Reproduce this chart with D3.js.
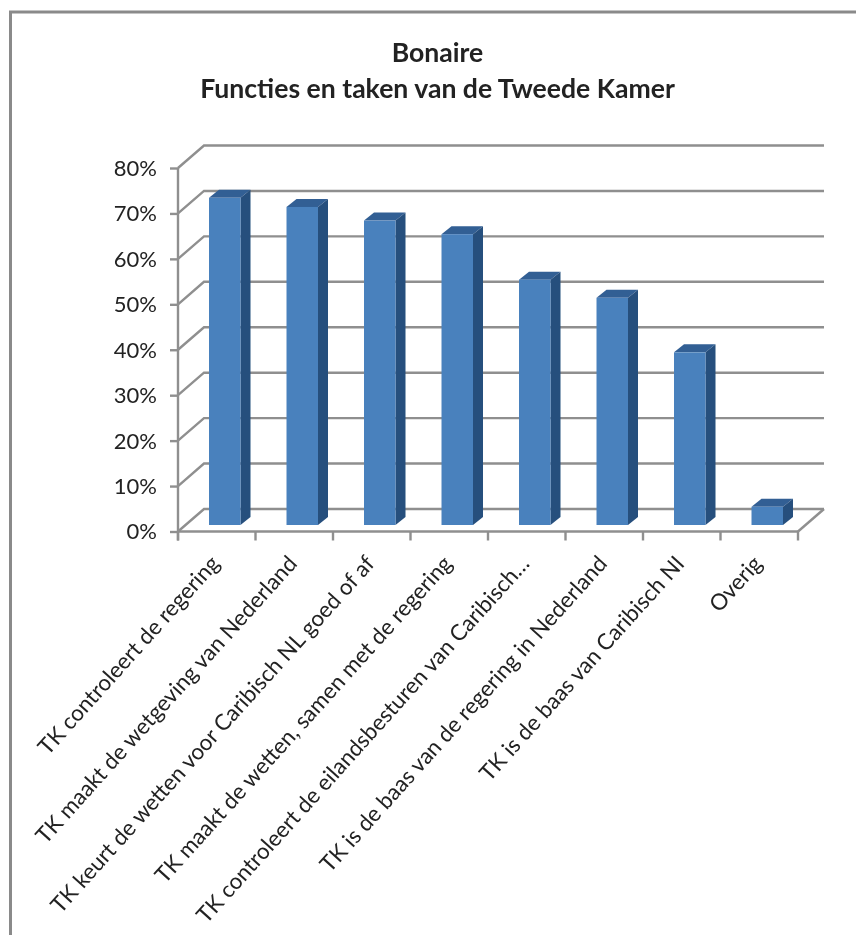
<!DOCTYPE html>
<html><head><meta charset="utf-8">
<script src="https://cdn.jsdelivr.net/npm/d3@7"></script>
<style>html,body{margin:0;padding:0;background:#fff}svg{display:block}text{font-family:Lato,"Open Sans",sans-serif;fill:#222}</style>
</head><body><div id="c"></div>
<script>
const titleLines = ["Bonaire", "Functies en taken van de Tweede Kamer"];
const categories = ["TK controleert de regering","TK maakt de wetgeving van Nederland","TK keurt de wetten voor Caribisch NL goed of af","TK maakt de wetten, samen met de regering","TK controleert de eilandsbesturen van Caribisch…","TK is de baas van de regering in Nederland","TK is de baas van Caribisch NI","Overig"];
const values = [0.72,0.70,0.67,0.64,0.54,0.50,0.38,0.04];
const yTicks = [0,0.1,0.2,0.3,0.4,0.5,0.6,0.7,0.8];

const W=856,H=935;
const svg=d3.select("#c").append("svg").attr("width",W).attr("height",H);
svg.append("defs").append("filter").attr("id","soft").append("feGaussianBlur").attr("stdDeviation",0.45);
const root=svg.append("g").attr("filter","url(#soft)");
const x=d3.scaleBand().domain(categories).range([178,798]).paddingInner(0).paddingOuter(0);
const y=d3.scaleLinear().domain([0,0.8]).range([531.5,168]);
const wallDx=26, wallDy=-22.5, barDx=8.5, barDy=-6.5, depthDx=10, depthDy=-8, barW=31.5;
const grid="#8f8f8f";

// frame
root.append("path").attr("d",`M10.5,${H+5}V12H${W+5}`).attr("fill","none").attr("stroke","#8a8a8a").attr("stroke-width",3);

// title
root.append("g").selectAll("text").data(titleLines).join("text")
  .attr("x",437.5).attr("y",(d,i)=>i?97.5:61.5).attr("text-anchor","middle")
  .attr("font-size",26.6).attr("font-weight",700).text(d=>d);

// walls
const walls=root.append("g").attr("fill","none").attr("stroke",grid).attr("stroke-width",2.4);
walls.selectAll("path").data(yTicks).join("path")
  .attr("d",d=>`M178,${y(d)}l${wallDx},${wallDy}H${798+wallDx}`);
walls.append("path").attr("d",`M${798+wallDx},${y(0)+wallDy}L798,${y(0)}`);

// axes
const yAxis=d3.axisLeft(y).tickValues(yTicks).tickFormat(d3.format(".0%")).tickSize(8).tickPadding(13);
const gy=root.append("g").attr("transform","translate(178,0)").call(yAxis);
const xAxis=d3.axisBottom(x).tickSize(9).tickFormat("").tickValues([]);
const gx=root.append("g").attr("transform",`translate(0,${y(0)})`).call(xAxis);
gx.selectAll(".tickm").data([...categories.map(c=>x(c)),x.range()[1]]).join("line").attr("class","tickm")
  .attr("x1",d=>d).attr("x2",d=>d).attr("y1",0).attr("y2",9).attr("stroke",grid).attr("stroke-width",2.4);
[gy,gx].forEach(g=>{g.selectAll("path.domain").attr("stroke",grid).attr("stroke-width",2.4);
  g.selectAll(".tick line").attr("stroke",grid).attr("stroke-width",2.4);});
gy.selectAll("text").attr("font-size",22).attr("dy","0.34em").style("fill","#222").style("font-family","Lato");
gy.select("path.domain").attr("d",`M0,${y(0.8)}V${y(0)+9}`);
gx.select("path.domain").attr("d",`M178,0H798`);

// category labels
root.append("g").selectAll("text").data(categories).join("text")
  .attr("text-anchor","end").attr("font-size",22.3)
  .attr("transform",c=>`translate(${x(c)+x.bandwidth()/2+4},${y(0)+33}) rotate(-48)`)
  .text(c=>c);

// bars
const bars=root.append("g").selectAll("g").data(categories.map((c,i)=>({c,v:values[i]}))).join("g");
const bx=d=>x(d.c)+x.bandwidth()/2-barW/2+barDx-0.5;
const fy=v=>y(v)+barDy;
bars.append("path").attr("fill","#335f94")
  .attr("d",d=>`M${bx(d)},${fy(d.v)}l${depthDx},${depthDy}h${barW}l${-depthDx},${-depthDy}z`);
bars.append("path").attr("fill","#264f7d")
  .attr("d",d=>`M${bx(d)+barW},${fy(d.v)}l${depthDx},${depthDy}V${fy(0)+depthDy}l${-depthDx},${-depthDy}z`);
bars.append("rect").attr("fill","#4a81bd")
  .attr("x",bx).attr("y",d=>fy(d.v)).attr("width",barW).attr("height",d=>fy(0)-fy(d.v));
</script></body></html>
